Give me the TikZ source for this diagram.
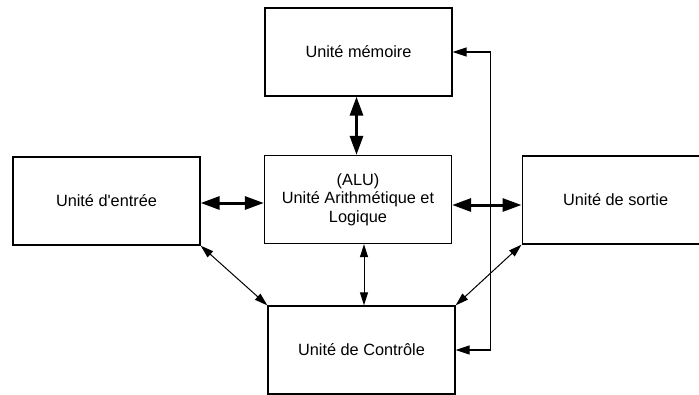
\documentclass[tikz,border=0pt]{standalone}
\usepackage{fontspec}
\setmainfont{Liberation Sans}[Ligatures=TeXOff]
\usetikzlibrary{arrows.meta}
\begin{document}
\begin{tikzpicture}[x=1pt,y=-1pt,
    unit/.style={draw,line width=1.3pt,minimum width=187pt,minimum height=88pt,
      inner sep=0pt,align=center,font=\fontsize{16.3}{18.5}\selectfont},
    big/.style={{Triangle[length=19pt,width=13pt]}-{Triangle[length=19pt,width=13pt]},line width=3pt},
    small/.style={{Triangle[length=13pt,width=8pt]}-{Triangle[length=13pt,width=8pt]},line width=1pt},
    bus/.style={{Triangle[length=14pt,width=9pt]}-{Triangle[length=14pt,width=9pt]},line width=1.3pt}]
    \path[use as bounding box,clip] (0,0) rectangle (699,394);
    \node[unit] (mem) at (358.5,52) {Unité mémoire};
    \node[unit] (ent) at (106.5,201) {Unité d'entrée};
    \node[unit] (alu) at (358,199.5) {(ALU)\\Unité Arithmétique et\\Logique};
    \node[unit,anchor=west] (sor) at (521.5,200) {Unité de sortie};
    \node[unit] (ctl) at (361.5,350) {Unité de Contrôle};
    \draw[big] ([yshift=-2pt]ent.east) -- ([yshift=-2pt]ent.east -| alu.west);
    \draw[big] ([yshift=-5.5pt]alu.east) -- ([yshift=-5.5pt]alu.east -| sor.west);
    \draw[big] ([xshift=-2pt]mem.south) -- ([xshift=-2pt]mem.south |- alu.north);
    \draw[small] (ent.south east) -- (ctl.north west);
    \draw[small] (sor.south west) -- (ctl.north east);
    \draw[small] ([xshift=6pt]alu.south) -- ([xshift=6pt]alu.south |- ctl.north);
    \draw[bus] (mem.east) -- ++(37.5,0) |- (ctl.east);
    \end{tikzpicture}
\end{document}
